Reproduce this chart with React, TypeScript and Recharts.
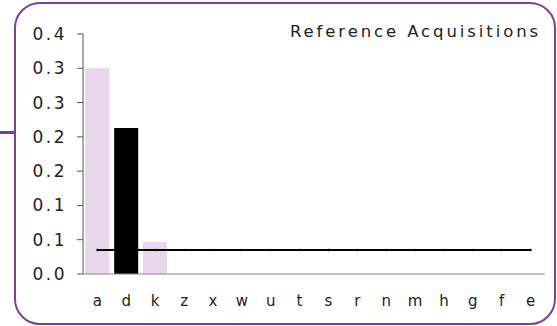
import { ComposedChart, Bar, Line, XAxis, YAxis, Cell } from "recharts";

const categories = ["a", "d", "k", "z", "x", "w", "u", "t", "s", "r", "n", "m", "h", "g", "f", "e"];
const acquisitions = [0.3, 0.213, 0.047, 0, 0, 0, 0, 0, 0, 0, 0, 0, 0, 0, 0, 0];
const average = [0.035, 0.035, 0.035, 0.035, 0.035, 0.035, 0.035, 0.035, 0.035, 0.035, 0.035, 0.035, 0.035, 0.035, 0.035, 0.035];
const yTicks = [0, 0.05, 0.1, 0.15, 0.2, 0.25, 0.3, 0.35];
const highlighted = "d";

const data = categories.map((name, i) => ({
  name,
  value: acquisitions[i],
  avg: average[i],
}));

const font = "'DejaVu Sans', sans-serif";

const fmt = (v: number) => (Math.round(v * 10) / 10).toFixed(1);

export default function App() {
  return (
    <div style={{ position: "absolute", left: 0, top: 0, width: 557, height: 326, background: "#fff" }}>
      <div
        style={{
          position: "absolute",
          left: 14,
          top: 2,
          width: 538,
          height: 319,
          border: "2px solid #7a3fa0",
          borderRadius: 26,
        }}
      />
      <div style={{ position: "absolute", left: 0, top: 131, width: 15, height: 3, background: "#7a3fa0" }} />
      <div
        style={{
          position: "absolute",
          right: 16,
          top: 22,
          fontFamily: font,
          fontSize: 16.5,
          letterSpacing: 2.9,
          color: "#222",
        }}
      >
        Reference Acquisitions
      </div>
      <ComposedChart
        width={557}
        height={326}
        data={data}
        margin={{ top: 34, right: 12, bottom: 22, left: 0 }}
        barCategoryGap="8%"
        style={{ position: "absolute", left: 0, top: 0 }}
      >
        <XAxis
          dataKey="name"
          height={30}
          stroke="#888"
          tickLine={false}
          tickSize={6}
          tickMargin={15}
          tick={{ fill: "#222", fontSize: 15, fontFamily: font }}
        />
        <YAxis
          width={83}
          domain={[0, 0.35]}
          ticks={yTicks}
          interval={0}
          tickFormatter={fmt}
          stroke="#555"
          tickSize={6}
          tickMargin={10}
          tick={{ fill: "#222", fontSize: 17, fontFamily: font, letterSpacing: 2.5 }}
        />
        <Bar dataKey="value" isAnimationActive={false}>
          {data.map((d) => (
            <Cell key={d.name} fill={d.name === highlighted ? "#000" : "#e8d6ea"} />
          ))}
        </Bar>
        <Line
          dataKey="avg"
          stroke="#000"
          strokeWidth={2}
          dot={{ r: 0.8, fill: "#000", stroke: "#000", strokeWidth: 1 }}
          isAnimationActive={false}
        />
      </ComposedChart>
    </div>
  );
}
